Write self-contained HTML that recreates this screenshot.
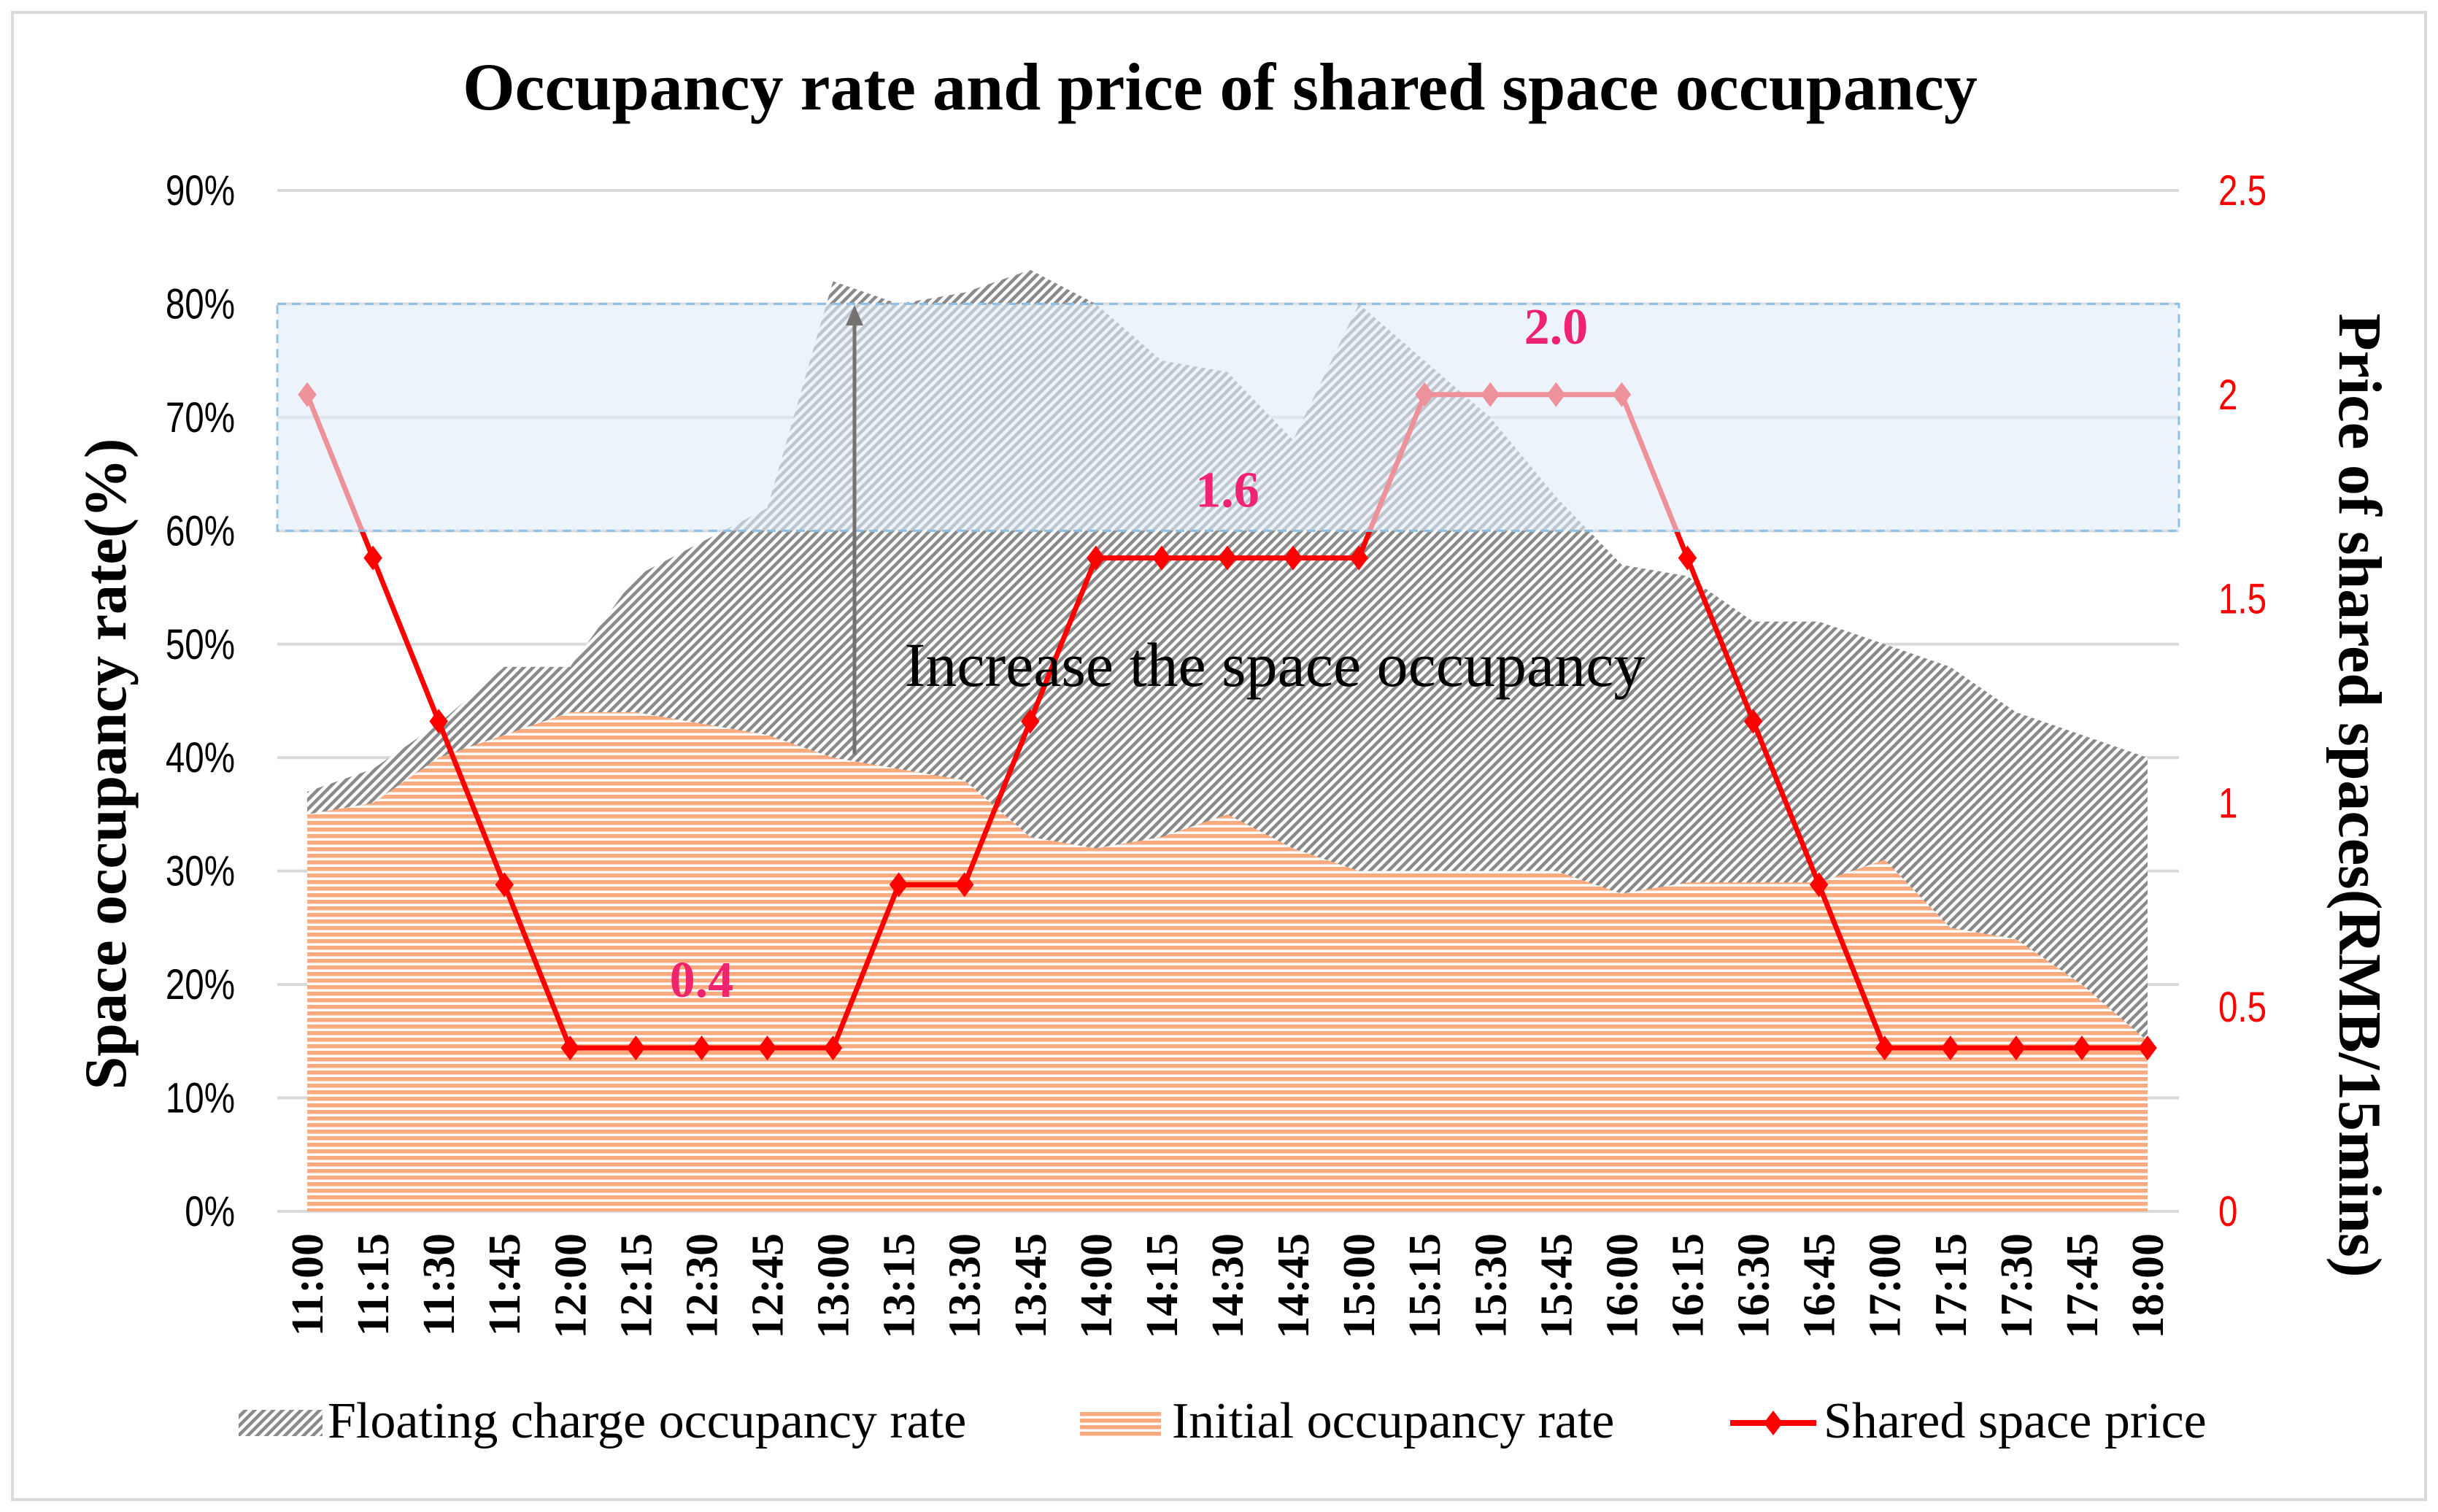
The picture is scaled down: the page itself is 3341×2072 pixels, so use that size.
<!DOCTYPE html>
<html><head><meta charset="utf-8"><style>
html,body{margin:0;padding:0;background:#fff}
svg{display:block}
</style></head><body>
<svg id="chart" width="3341" height="2072" viewBox="0 0 3341 2072" xmlns="http://www.w3.org/2000/svg">
<defs>
<pattern id="hatch" patternUnits="userSpaceOnUse" width="9" height="9" patternTransform="rotate(45)">
<rect width="9" height="9" fill="#ffffff"/><rect width="4.5" height="9" fill="#8a8a8a"/>
</pattern>
<pattern id="stripe" patternUnits="userSpaceOnUse" width="10" height="9">
<rect width="10" height="9" fill="#ffffff"/><rect width="10" height="5.5" fill="#f9aa7e"/>
</pattern>
</defs>
<rect x="17" y="17" width="3307" height="2038" fill="#fff" stroke="#d9d9d9" stroke-width="4"/>
<text x="1672" y="150" text-anchor="middle" font-family="'Liberation Serif',serif" font-weight="bold" font-size="92" fill="#000">Occupancy rate and price of shared space occupancy</text>
<g id="grid"></g>
<g id="areas"></g>
<g id="box"></g>
<g id="line"></g>
<g id="axes"></g>
</svg>
<script>
const categories=["11:00","11:15","11:30","11:45","12:00","12:15","12:30","12:45","13:00","13:15","13:30","13:45","14:00","14:15","14:30","14:45","15:00","15:15","15:30","15:45","16:00","16:15","16:30","16:45","17:00","17:15","17:30","17:45","18:00"];
const floatingRate=[37,39,43,48,48,56,59,62,82,80,81,83,80,75,74,68,80,75,70,63,57,56,52,52,50,48,44,42,40];
const initialRate=[35,36,40,42,44,44,43,42,40,39,38,33,32,33,35,32,30,30,30,30,28,29,29,29,31,25,24,20,15];
const price=[2,1.6,1.2,0.8,0.4,0.4,0.4,0.4,0.4,0.8,0.8,1.2,1.6,1.6,1.6,1.6,1.6,2,2,2,2,1.6,1.2,0.8,0.4,0.4,0.4,0.4,0.4];
const leftTicks=[0,10,20,30,40,50,60,70,80,90];
const rightTicks=[0,0.5,1,1.5,2,2.5];
const priceLabels=[{i:6,v:0.4,t:"0.4"},{i:14,v:1.6,t:"1.6"},{i:19,v:2.0,t:"2.0"}];

const NS="http://www.w3.org/2000/svg";
const X0=421,X1=2943,Y0=1660,Y90=261;
const xs=i=>X0+(X1-X0)*i/(categories.length-1);
const yL=v=>Y0-(Y0-Y90)*v/90;
const yR=v=>Y0-(Y0-Y90)*v/2.5;
function mk(tag,attrs,parent,text){const e=document.createElementNS(NS,tag);for(const k in attrs)e.setAttribute(k,attrs[k]);if(text!==undefined)e.textContent=text;parent.appendChild(e);return e;}
const grid=document.getElementById('grid'),areas=document.getElementById('areas'),box=document.getElementById('box'),line=document.getElementById('line'),axes=document.getElementById('axes');

leftTicks.forEach(t=>{
  const g=mk('line',{x1:380,x2:2986,y1:yL(t),y2:yL(t),stroke:'#d9d9d9','stroke-width':4},grid);
  
  
  const l=mk('text',{x:322,y:yL(t)+20,'text-anchor':'end','font-family':"'Liberation Sans',sans-serif",'font-size':58,fill:'#000'},axes,t+'%');
  l.setAttribute('transform',`translate(${322*0.18} 0) scale(0.82 1)`);
  
  
});
rightTicks.forEach(t=>{
  const l=mk('text',{x:3040,y:yR(t)+20,'font-family':"'Liberation Sans',sans-serif",'font-size':58,fill:'#ff0000'},axes,String(t));
  l.setAttribute('transform',`translate(${3040*0.18} 0) scale(0.82 1)`);
  
  
});

let pf=`M${xs(0)},${Y0} `+floatingRate.map((v,i)=>`L${xs(i)},${yL(v)}`).join(' ')+` L${xs(floatingRate.length-1)},${Y0} Z`;
const fa=mk('path',{d:pf,fill:'url(#hatch)'},areas);


let pi=`M${xs(0)},${Y0} `+initialRate.map((v,i)=>`L${xs(i)},${yL(v)}`).join(' ')+` L${xs(initialRate.length-1)},${Y0} Z`;
const ia=mk('path',{d:pi,fill:'url(#stripe)'},areas);



const pl=mk('polyline',{points:price.map((v,i)=>`${xs(i)},${yR(v)}`).join(' '),fill:'none',stroke:'#ff0000','stroke-width':7},line);


price.forEach((v,i)=>{
  const x=xs(i),y=yR(v),r=17;
  const m=mk('polygon',{points:`${x},${y-r} ${x+r*0.75},${y} ${x},${y+r} ${x-r*0.75},${y}`,fill:'#ff0000'},line);
  
  
});

const hb=mk('rect',{x:380,y:yL(80),width:2606,height:yL(60)-yL(80),fill:'rgba(226,236,248,0.62)',stroke:'#8fc0e4','stroke-width':3,'stroke-dasharray':'12,8'},line);



const arr=mk('line',{x1:1171,y1:1034,x2:1171,y2:440,stroke:'#767171','stroke-width':5},line);


const ah=mk('polygon',{points:`1171,418 1159,446 1183,446`,fill:'#767171'},line);


const an=mk('text',{x:1747,y:940,'text-anchor':'middle','font-family':"'Liberation Serif',serif",'font-size':86,fill:'#000'},line,'Increase the space occupancy');



priceLabels.forEach(p=>{
  const t=mk('text',{x:xs(p.i),y:yR(p.v)-70,'text-anchor':'middle','font-family':"'Liberation Serif',serif",'font-weight':'bold','font-size':70,fill:'#f0246e'},line,p.t);
  
  
});

categories.forEach((c,i)=>{
  const t=mk('text',{x:0,y:0,'text-anchor':'end','font-family':"'Liberation Serif',serif",'font-weight':'bold','font-size':62,fill:'#000',transform:`translate(${xs(i)+21},1690) rotate(-90)`},axes,c);
  
  
});

const lt=mk('text',{x:0,y:0,'text-anchor':'middle','font-family':"'Liberation Serif',serif",'font-weight':'bold','font-size':82,fill:'#000',transform:'translate(172,1047) rotate(-90)'},axes,'Space occupancy rate(%)');


const rt=mk('text',{x:0,y:0,'text-anchor':'middle','font-family':"'Liberation Serif',serif",'font-weight':'bold','font-size':84,fill:'#000',transform:'translate(3206,1090) rotate(90)'},axes,'Price of shared spaces(RMB/15mins)');



const s1=mk('rect',{x:327,y:1932,width:115,height:36,fill:'url(#hatch)'},axes);


const l1=mk('text',{x:449,y:1970,'font-family':"'Liberation Serif',serif",'font-size':70,fill:'#000'},axes,'Floating charge occupancy rate');


const s2=mk('rect',{x:1480,y:1932,width:111,height:36,fill:'url(#stripe)'},axes);


const l2=mk('text',{x:1606,y:1970,'font-family':"'Liberation Serif',serif",'font-size':70,fill:'#000'},axes,'Initial occupancy rate');


const s3=mk('line',{x1:2371,x2:2489,y1:1950,y2:1950,stroke:'#ff0000','stroke-width':8},axes);


const s3m=mk('polygon',{points:'2430,1933 2443,1950 2430,1967 2417,1950',fill:'#ff0000'},axes);


const l3=mk('text',{x:2499,y:1970,'font-family':"'Liberation Serif',serif",'font-size':70,fill:'#000'},axes,'Shared space price');


</script>
</body></html>
